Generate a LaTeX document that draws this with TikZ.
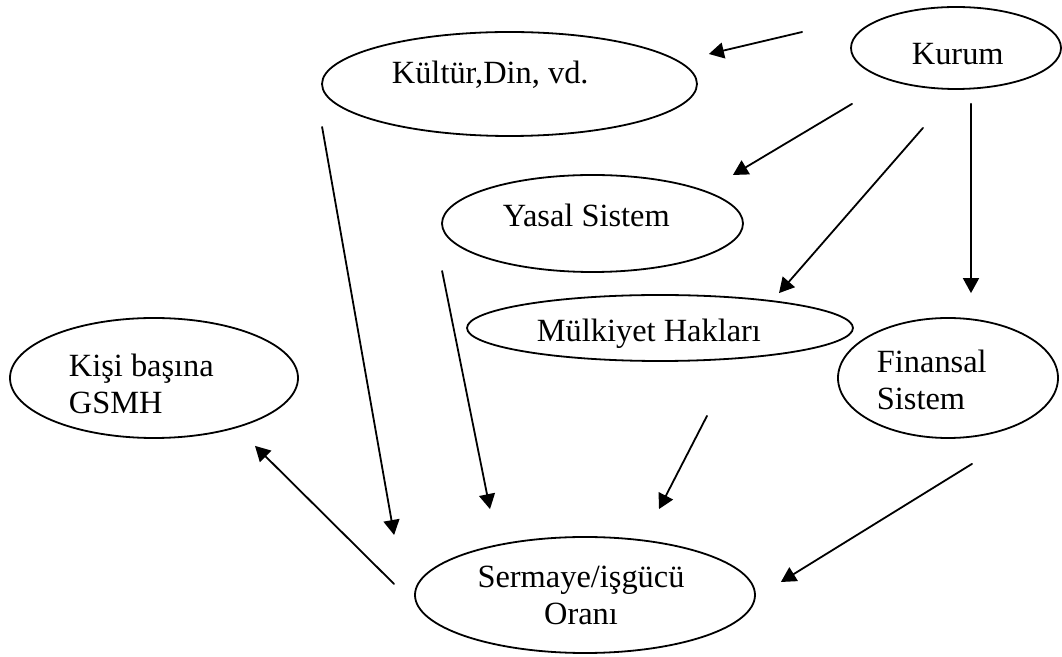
\documentclass[tikz,border=0pt]{standalone}
\usepackage{fontspec}
\setmainfont{Liberation Serif}
\usetikzlibrary{shapes.geometric,arrows.meta}

\tikzset{
  oval/.style={draw, ellipse, inner sep=0pt},
  lbl/.style={font=\fontsize{16.2}{18.5}\selectfont, inner sep=0pt, anchor=base west},
}

\begin{document}
\begin{tikzpicture}[x=0.5pt,y=-0.5pt,line join=round,line cap=round,line width=0.9pt,
    >={Triangle[length=7.5pt,width=8pt]}]
	\useasboundingbox (0,0) rectangle (1062,657);
	
	% ellipses
	\node[oval, minimum width=105pt, minimum height=41pt] (kurum) at (956,48) {};
	\node[oval, minimum width=187.5pt, minimum height=52pt] (kultur) at (509.5,84) {};
	\node[oval, minimum width=150.5pt, minimum height=48.5pt] (yasal) at (592.5,223.5) {};
	\node[oval, minimum width=193pt, minimum height=33pt] (mulkiyet) at (660,328) {};
	\node[oval, minimum width=110pt, minimum height=60pt] (finansal) at (948,378) {};
	\node[oval, minimum width=144pt, minimum height=60pt] (kisi) at (154,378) {};
	\node[oval, minimum width=170pt, minimum height=58pt] (sermaye) at (585,595) {};
	
	% labels (base = last line)
	\node[lbl] (kurum-t) at (911,65) {Kurum};
	\node[lbl] (kultur-t) at (391,84) {Kültür,Din, vd.};
	\node[lbl] (yasal-t) at (502,227) {Yasal Sistem};
	\node[lbl] (mulkiyet-t) at (536,342) {Mülkiyet Hakları};
	\node[lbl, align=left] (finansal-t) at (876,410) {Finansal\\Sistem};
	\node[lbl, align=left] (kisi-t) at (68,414) {Kişi başına\\GSMH};
	\node[lbl, align=center, anchor=base] (sermaye-t) at (581,625) {Sermaye/işgücü\\Oranı};
	
	% arrows
	\draw[->] ([shift={(-48,-16)}]kurum.west) -- ([shift={(11,-30)}]kultur.east);
	\draw[->] ([shift={(-104,14)}]kurum.south) -- ([shift={(-11,-48.5)}]yasal.east);
	\draw[->] ([shift={(-33,38)}]kurum.south) -- ([shift={(119,-1)}]mulkiyet.north);
	\draw[->] ([shift={(15,14)}]kurum.south) -- ([shift={(23,-24)}]finansal.north);
	\draw[->] ([shift={(1,43)}]kultur.west) -- ([shift={(-20,-60)}]sermaye.west);
	\draw[->] ([shift={(1,47.5)}]yasal.west) -- ([shift={(-95,-27)}]sermaye.north);
	\draw[->] ([shift={(47,54)}]mulkiyet.south) -- ([shift={(74,-27)}]sermaye.north);
	\draw[->] ([shift={(24,25)}]finansal.south) -- ([shift={(25,-13)}]sermaye.east);
	\draw[->] ([shift={(-20,-11)}]sermaye.west) -- ([shift={(101,7)}]kisi.south);
	
\end{tikzpicture}
\end{document}
